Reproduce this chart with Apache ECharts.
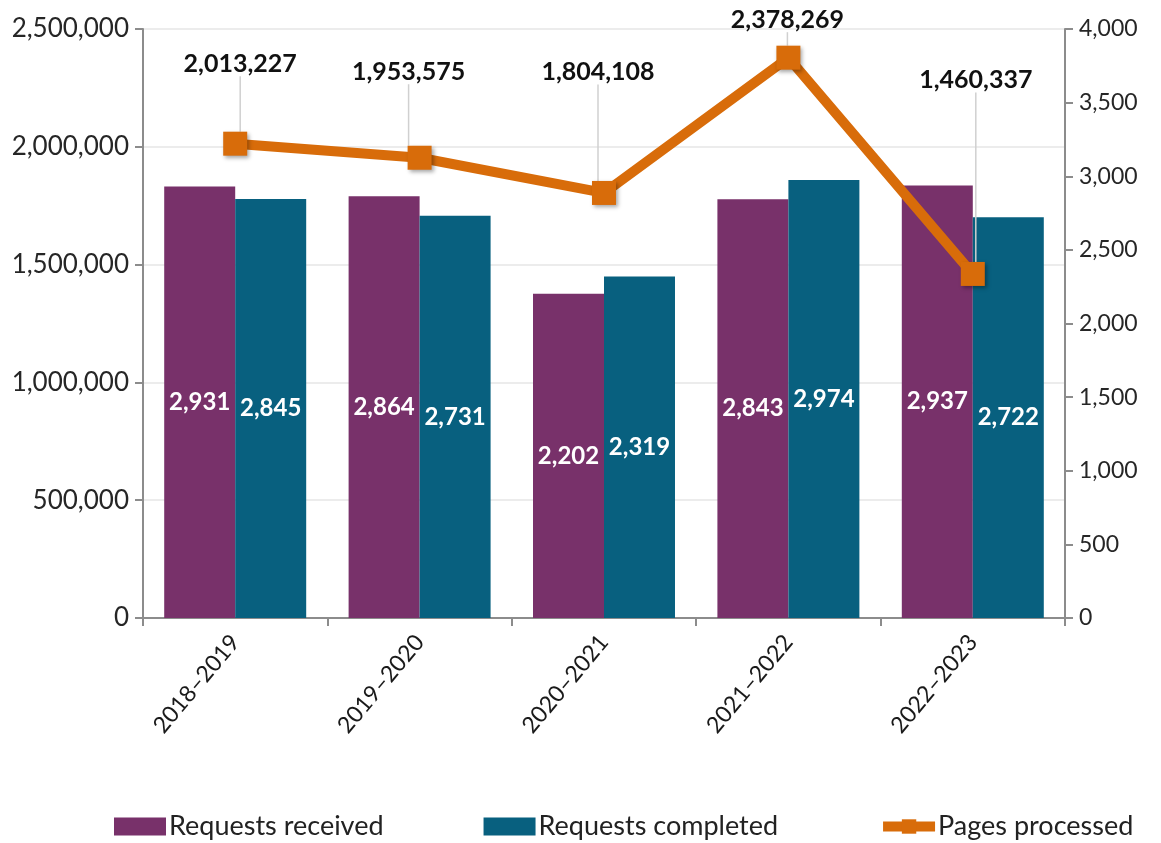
<!DOCTYPE html>
<html style="height: 100%">
<head>
    <meta charset="UTF-8">
    <script src="https://cdn.jsdelivr.net/npm/echarts@6/dist/echarts.min.js"></script>
</head>
<body style="margin: 0;background: #FFF;">
<div id="chart" style="width: 1161px;height: 843px;"></div>
<script>
    // 数据
    var years = ['2018\u20132019', '2019\u20132020', '2020\u20132021', '2021\u20132022', '2022\u20132023'];
    var received = [2931, 2864, 2202, 2843, 2937];
    var completed = [2845, 2731, 2319, 2974, 2722];
    var pages = [2013227, 1953575, 1804108, 2378269, 1460337];

    // 折线标签位置修正
    var labelShift = [[5, -80], [-11, -86], [-6, -121], [-1, -38], [3, -194]];

    var font = 'Lato, "Open Sans", sans-serif';
    var axisGray = '#8c8c8c';

    var myChart = echarts.init(document.getElementById('chart'));
    var option = {
        animation: false,
        textStyle: {fontFamily: font},
        grid: {left: 143, right: 96, top: 29, bottom: 225},
        legend: {
            top: 808,
            left: 109,
            itemWidth: 52,
            itemHeight: 18,
            itemGap: 100,
            lineStyle: {width: 10},
            textStyle: {fontSize: 27, color: '#222', fontFamily: font, padding: [0, 0, 0, -2]},
            data: [
                {name: 'Requests received', icon: 'rect'},
                {name: 'Requests completed', icon: 'rect'},
                {name: 'Pages processed'}
            ]
        },
        xAxis: {
            type: 'category',
            data: years,
            axisLine: {lineStyle: {color: axisGray, width: 2}},
            axisTick: {show: true, length: 8, lineStyle: {color: axisGray, width: 2}},
            axisLabel: {rotate: 50, fontSize: 23, color: '#1a1a1a', margin: 20}
        },
        yAxis: [
            {
                type: 'value', min: 0, max: 2500000, interval: 500000,
                axisLine: {show: true, lineStyle: {color: axisGray, width: 2}},
                axisTick: {show: true, length: 8, lineStyle: {color: axisGray, width: 2}},
                splitLine: {show: true, lineStyle: {color: '#e6e6e6', width: 1.5}},
                axisLabel: {
                    fontSize: 26, color: '#262626', margin: 14,
                    formatter: function (v) { return v.toLocaleString('en-US'); }
                }
            },
            {
                type: 'value', min: 0, max: 4000, interval: 500,
                axisLine: {show: true, lineStyle: {color: axisGray, width: 2}},
                axisTick: {show: true, length: 8, lineStyle: {color: axisGray, width: 2}},
                splitLine: {show: false},
                axisLabel: {
                    fontSize: 23, color: '#262626', margin: 14,
                    formatter: function (v) { return v.toLocaleString('en-US'); }
                }
            }
        ],
        series: [
            {
                name: 'Requests received',
                type: 'bar',
                yAxisIndex: 1,
                data: received,
                barGap: '0%',
                barCategoryGap: '23%',
                itemStyle: {color: '#78316A'},
                label: {
                    show: true, position: 'inside', color: '#fff', fontWeight: 'bold', fontSize: 24,
                    formatter: function (p) { return p.value.toLocaleString('en-US'); }
                }
            },
            {
                name: 'Requests completed',
                type: 'bar',
                yAxisIndex: 1,
                data: completed,
                itemStyle: {color: '#08607F'},
                label: {
                    show: true, position: 'inside', color: '#fff', fontWeight: 'bold', fontSize: 24,
                    formatter: function (p) { return p.value.toLocaleString('en-US'); }
                }
            },
            {
                name: 'Pages processed',
                type: 'line',
                yAxisIndex: 0,
                data: pages,
                symbol: 'rect',
                symbolSize: 24,
                z: 5,
                lineStyle: {color: '#D86C0A', width: 10},
                itemStyle: {
                    color: '#D86C0A',
                    shadowBlur: 4, shadowColor: 'rgba(0,0,0,0.35)', shadowOffsetX: 2, shadowOffsetY: 2
                },
                label: {
                    show: true, position: 'inside', color: '#111', fontWeight: 'bold', fontSize: 25,
                    formatter: function (p) { return p.value.toLocaleString('en-US'); }
                },
                labelLine: {show: true, lineStyle: {color: '#d0d0d0', width: 1.5}},
                labelLayout: function (params) {
                    var s = labelShift[params.dataIndex];
                    return {dx: s[0], dy: s[1]};
                }
            }
        ]
    };
    myChart.setOption(option, true);
</script>
</body>
</html>
